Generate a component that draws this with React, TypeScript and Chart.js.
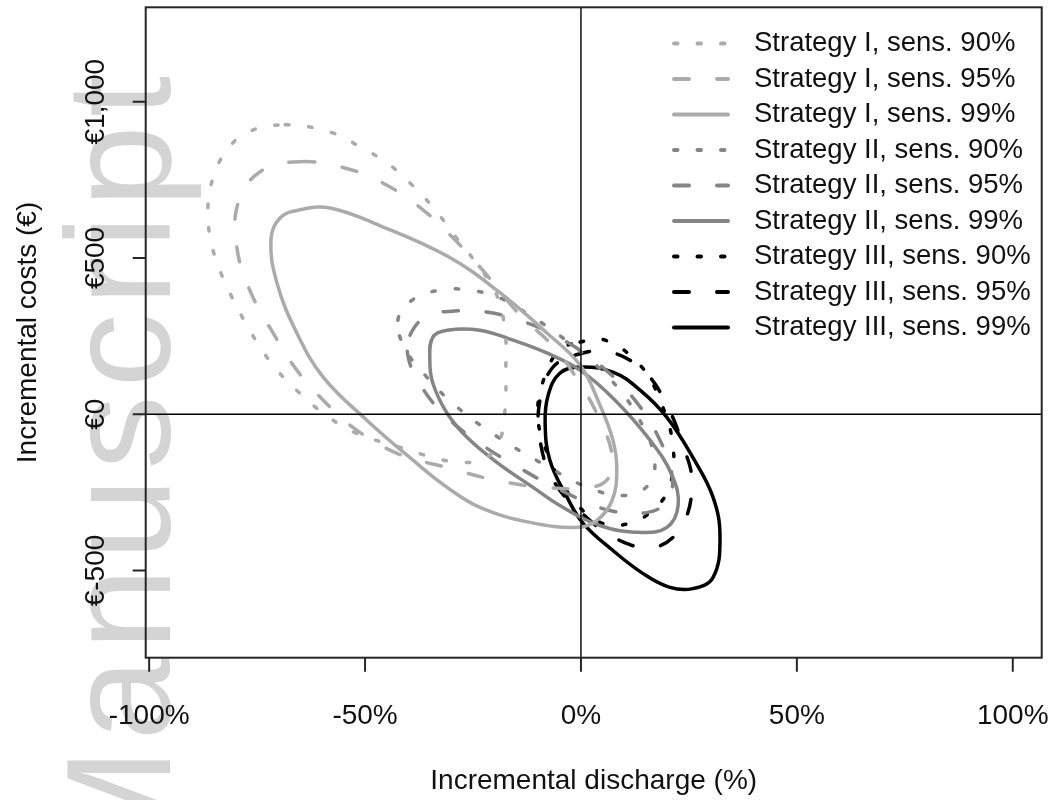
import React, { useEffect, useRef } from 'react';
import { Chart, registerables } from 'chart.js';
Chart.register(...registerables);

// ---- axes ----
const xMin = -100.8;
const xMax = 106.7;
const yMin = -779;
const yMax = 1302;
const xTicks = [-100, -50, 0, 50, 100];
const xTickLabels = ['-100%', '-50%', '0%', '50%', '100%'];
const yTicks = [-500, 0, 500, 1000];
const yTickLabels = ['€-500', '€0', '€500', '€1,000'];
const xTitle = 'Incremental discharge (%)';
const yTitle = 'Incremental costs (€)';
const watermark = 'Manuscript';

// ---- series: points (x in %, y in €) ----
const strategyI_90: [number, number][] = [
  [-68.5, 926], [-57.7, 901], [-51.2, 856], [-44.9, 804], [-39.6, 740], [-34.3, 663],
  [-28.5, 558], [-23.4, 468], [-19.5, 381], [-17.6, 269], [-17.4, 141], [-17.6, 13],
  [-18.8, -83], [-22.2, -141], [-28.0, -154], [-34.3, -138], [-41.9, -106], [-48.9, -77],
  [-53.5, -51], [-59.7, 3], [-65.1, 67], [-70.4, 141], [-74.3, 215], [-77.8, 295],
  [-81.3, 388], [-84.1, 478], [-85.9, 567], [-86.4, 663], [-85.2, 756], [-82.4, 837],
  [-77.4, 901],
];
const strategyI_95: [number, number][] = [
  [-65.1, 808], [-54.7, 788], [-45.9, 740], [-36.6, 654], [-29.2, 558], [-22.2, 452],
  [-14.1, 317], [-6.7, 221], [-0.7, 109], [4.4, -19], [7.2, -131], [6.3, -205],
  [2.1, -234], [-8.3, -234], [-19.5, -212], [-30.3, -173], [-42.6, -125], [-52.8, -42],
  [-59.7, 45], [-65.8, 141], [-71.3, 260], [-76.7, 397], [-79.7, 535], [-79.4, 676],
  [-74.3, 776],
];
const strategyI_99: [number, number][] = [
  [-58.1, 660], [-46.5, 603], [-31.0, 506], [-19.5, 397], [-7.9, 260], [-0.2, 157],
  [4.4, 29], [7.4, -83], [8.3, -179], [7.2, -276], [3.7, -340], [-0.7, -362],
  [-11.8, -346], [-23.4, -298], [-31.0, -234], [-38.9, -147], [-49.6, -19], [-59.7, 119],
  [-65.8, 260], [-70.4, 420], [-71.8, 558], [-69.7, 628], [-65.1, 654],
];
const strategyII_90: [number, number][] = [
  [-42.4, 301], [-39.1, 365], [-32.7, 397], [-25.7, 397], [-18.8, 372], [-13.0, 327],
  [-6.7, 269], [0.9, 189], [9.0, 77], [14.8, -51], [17.1, -154], [15.5, -228],
  [10.2, -260], [2.1, -237], [-8.3, -163], [-19.9, -67], [-29.2, 29], [-36.1, 125],
  [-40.8, 212],
];
const strategyII_95: [number, number][] = [
  [-39.6, 253], [-35.7, 314], [-29.2, 330], [-21.8, 327], [-13.0, 295], [-4.9, 244],
  [4.4, 157], [12.5, 45], [18.3, -83], [21.1, -196], [20.1, -276], [15.5, -314],
  [6.7, -308], [-3.7, -250], [-14.1, -173], [-24.5, -83], [-32.7, 13], [-37.8, 109],
  [-40.1, 189],
];
const strategyII_99: [number, number][] = [
  [-34.3, 247], [-31.0, 269], [-23.4, 269], [-15.7, 237], [-7.9, 196], [-0.2, 141],
  [7.9, 45], [16.0, -83], [21.1, -196], [22.5, -292], [19.9, -362], [13.7, -378],
  [4.4, -356], [-4.9, -292], [-11.1, -234], [-19.5, -154], [-26.4, -74], [-31.0, 3],
  [-34.3, 99], [-35.0, 173],
];
const strategyIII_90: [number, number][] = [
  [-0.2, 231], [5.6, 237], [13.7, 157], [18.3, 45], [21.3, -99], [20.6, -228],
  [17.1, -301], [11.3, -349], [4.4, -346], [-2.5, -260], [-7.6, -131], [-10.0, -3],
  [-8.3, 125], [-4.9, 205],
];
const strategyIII_95: [number, number][] = [
  [-1.4, 189], [6.7, 199], [14.8, 135], [19.9, 29], [23.6, -99], [25.7, -218],
  [23.4, -356], [17.1, -426], [9.0, -404], [2.1, -340], [-6.0, -221], [-9.5, -83],
  [-9.5, 45], [-6.7, 147],
];
const strategyIII_99: [number, number][] = [
  [-0.2, 151], [7.4, 135], [13.7, 77], [19.9, -10], [25.9, -138], [30.6, -266],
  [32.2, -394], [30.6, -522], [25.9, -558], [20.6, -554], [14.4, -510], [7.4, -436],
  [0.5, -349], [-3.2, -266], [-7.2, -147], [-8.3, -29], [-7.6, 61], [-4.9, 131],
];

const seriesLabels = [
  'Strategy I, sens. 90%', 'Strategy I, sens. 95%', 'Strategy I, sens. 99%',
  'Strategy II, sens. 90%', 'Strategy II, sens. 95%', 'Strategy II, sens. 99%',
  'Strategy III, sens. 90%', 'Strategy III, sens. 95%', 'Strategy III, sens. 99%',
];
const seriesData = [
  strategyI_90, strategyI_95, strategyI_99,
  strategyII_90, strategyII_95, strategyII_99,
  strategyIII_90, strategyIII_95, strategyIII_99,
];
const strategyColors = ['#ababab', '#858585', '#000000'];
const DOT = [3.5, 20];
const DASH = [15, 28];
const SOLID: number[] = [];
const sensDashes = [DOT, DASH, SOLID];

const FONT = '"Liberation Sans", Arial, sans-serif';
const HIDDEN = 'rgba(0,0,0,0)';

const rPlot = {
  id: 'rPlot',
  beforeDraw(chart: any) {
    const { ctx, width, height } = chart;
    ctx.save();
    ctx.fillStyle = '#ffffff';
    ctx.fillRect(0, 0, width, height);
    ctx.translate(170, 68);
    ctx.rotate(-Math.PI / 2);
    ctx.fillStyle = '#d4d4d4';
    ctx.font = `148px ${FONT}`;
    try { (ctx as any).letterSpacing = '8px'; } catch (e) { /* ignore */ }
    ctx.textAlign = 'right';
    ctx.textBaseline = 'alphabetic';
    ctx.fillText(watermark, 0, 0);
    try { (ctx as any).letterSpacing = '0px'; } catch (e) { /* ignore */ }
    ctx.restore();
  },
  afterDraw(chart: any) {
    const { ctx, chartArea: a, scales } = chart;
    const xs = scales.x;
    const ys = scales.y;
    ctx.save();
    // zero reference lines
    ctx.strokeStyle = '#000';
    ctx.lineWidth = 1.4;
    ctx.setLineDash([]);
    const x0 = xs.getPixelForValue(0);
    const y0 = ys.getPixelForValue(0);
    ctx.beginPath();
    ctx.moveTo(x0, a.top); ctx.lineTo(x0, a.bottom);
    ctx.moveTo(a.left, y0); ctx.lineTo(a.right, y0);
    ctx.stroke();
    // box
    ctx.strokeStyle = '#262626';
    ctx.lineWidth = 2;
    ctx.strokeRect(a.left, a.top, a.right - a.left, a.bottom - a.top);
    // ticks
    ctx.beginPath();
    xTicks.forEach((v) => {
      const px = xs.getPixelForValue(v);
      ctx.moveTo(px, a.bottom); ctx.lineTo(px, a.bottom + 14);
    });
    yTicks.forEach((v) => {
      const py = ys.getPixelForValue(v);
      ctx.moveTo(a.left, py); ctx.lineTo(a.left - 13, py);
    });
    ctx.stroke();
    // tick labels
    ctx.fillStyle = '#111';
    ctx.font = `28px ${FONT}`;
    ctx.textAlign = 'center';
    ctx.textBaseline = 'middle';
    xTicks.forEach((v, i) => {
      ctx.fillText(xTickLabels[i], xs.getPixelForValue(v), 716);
    });
    yTicks.forEach((v, i) => {
      ctx.save();
      ctx.translate(96, ys.getPixelForValue(v));
      ctx.rotate(-Math.PI / 2);
      ctx.fillText(yTickLabels[i], 0, 0);
      ctx.restore();
    });
    // titles
    ctx.fillText(xTitle, (a.left + a.right) / 2, 781);
    ctx.save();
    ctx.translate(28, (a.top + a.bottom) / 2);
    ctx.rotate(-Math.PI / 2);
    ctx.fillText(yTitle, 0, 0);
    ctx.restore();
    // legend
    ctx.font = `27.5px ${FONT}`;
    ctx.textAlign = 'left';
    seriesLabels.forEach((lab, i) => {
      const yy = 43.5 + i * 35.5;
      ctx.strokeStyle = strategyColors[Math.floor(i / 3)];
      ctx.lineWidth = 4;
      ctx.lineCap = 'round';
      ctx.setLineDash(sensDashes[i % 3]);
      ctx.beginPath();
      ctx.moveTo(674, yy); ctx.lineTo(728, yy);
      ctx.stroke();
      ctx.setLineDash([]);
      ctx.fillStyle = '#111';
      ctx.fillText(lab, 754, yy);
    });
    ctx.restore();
  },
};

export default function App() {
  const ref = useRef<HTMLCanvasElement | null>(null);
  useEffect(() => {
    if (!ref.current) return;
    const datasets = seriesData.map((pts, i) => {
      const n = pts.length;
      // wrap the closed contour: neighbours on both ends give a smooth join
      const wrapped = [pts[n - 1], ...pts, pts[0], pts[1]].map(([x, y]) => ({ x, y }));
      const color = strategyColors[Math.floor(i / 3)];
      return {
        label: seriesLabels[i],
        data: wrapped,
        showLine: true,
        borderColor: color,
        backgroundColor: color,
        borderWidth: 3.5,
        borderDash: sensDashes[i % 3],
        borderCapStyle: 'round' as const,
        borderJoinStyle: 'round' as const,
        pointRadius: 0,
        pointHoverRadius: 0,
        tension: 0.4,
        fill: false,
        segment: {
          borderColor: (c: any) =>
            c.p0DataIndex === 0 || c.p0DataIndex === n + 1 ? HIDDEN : undefined,
        },
      };
    });
    const chart = new Chart(ref.current, {
      type: 'scatter',
      data: { datasets },
      options: {
        animation: false,
        responsive: false,
        devicePixelRatio: 1,
        layout: { padding: { left: 145.7, top: 7.3, right: 8.3, bottom: 142.3 } },
        plugins: { legend: { display: false }, tooltip: { enabled: false } },
        scales: {
          x: { type: 'linear', min: xMin, max: xMax, display: false },
          y: { type: 'linear', min: yMin, max: yMax, display: false },
        },
      },
      plugins: [rPlot],
    });
    return () => chart.destroy();
  }, []);
  return (
    <div style={{ position: 'absolute', left: 0, top: 0, width: 1050, height: 800, background: '#fff' }}>
      <canvas ref={ref} width={1050} height={800} style={{ display: 'block' }} />
    </div>
  );
}
